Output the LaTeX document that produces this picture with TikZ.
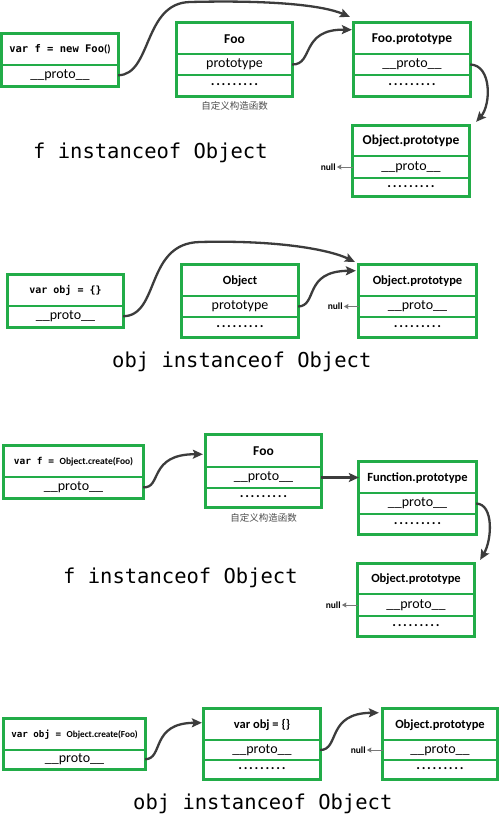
\documentclass[tikz,border=0pt]{standalone}
\usepackage{fontspec}
\setmainfont{Carlito}
\newfontfamily\monof{DejaVu Sans Mono}
\newfontfamily\cjkf{Noto Sans CJK SC}
\usetikzlibrary{arrows.meta,calc}
\definecolor{boxgreen}{RGB}{34,172,72}
\definecolor{arrgray}{RGB}{60,60,60}
\definecolor{nullgray}{RGB}{120,120,120}
\newcommand\dotrow{.\kern1.7pt.\kern1.7pt.\kern1.7pt.\kern1.7pt.\kern1.7pt.\kern1.7pt.\kern1.7pt.\kern1.7pt.}
% cell: name, x1, x2, y1, y2, text
\newcommand\mkcell[6]{%
  \pgfmathsetmacro\cw{#3-#2}%
  \pgfmathsetmacro\ch{#5-#4}%
  \pgfmathsetmacro\cx{(#2+#3)/2}%
  \pgfmathsetmacro\cy{(#4+#5)/2}%
  \node[cell,minimum width=\cw pt,minimum height=\ch pt] (#1) at (\cx,\cy) {#6};
}
\newcommand\threebox[9]{%
  \mkcell{#1h}{#2}{#3}{#4}{#5}{#8}
  \mkcell{#1p}{#2}{#3}{#5}{#6}{\protof #9}
  \mkcell{#1d}{#2}{#3}{#6}{#7}{\protof\bfseries\raisebox{1pt}{\dotrow}}
  \draw[frame] (#1h.north west) rectangle (#1d.south east);
}
\newcommand\twobox[7]{%
  \mkcell{#1h}{#2}{#3}{#4}{#5}{#7}
  \mkcell{#1p}{#2}{#3}{#5}{#6}{\protof \_\_proto\_\_}
  \draw[frame] (#1h.north west) rectangle (#1p.south east);
}
\newcommand\protof{\fontsize{14}{16}\selectfont}
\newcommand\headf{\fontsize{12.5}{14}\selectfont\bfseries}
\newcommand\headF{\fontsize{13.5}{15}\selectfont\bfseries}
\newcommand\pr{\_\_proto\_\_}
\begin{document}
\begin{tikzpicture}[x=1pt,y=-1pt,
  cell/.style={draw=boxgreen,line width=1.3pt,inner sep=0pt,align=center},
  frame/.style={draw=boxgreen,line width=3pt},
  arr/.style={draw=arrgray,line width=2.3pt,-{Stealth[length=10pt,width=9pt,inset=2pt]}},
  nullarr/.style={draw=nullgray,line width=0.9pt,-{Stealth[length=4.5pt,width=5pt,inset=0.5pt]}},
  nullt/.style={font=\fontsize{9.5}{10}\selectfont\bfseries,inner sep=1pt,anchor=east},
  titlet/.style={font=\monof\fontsize{20.5}{22}\selectfont,inner sep=0pt,anchor=base west},
  capt/.style={font=\cjkf\fontsize{9.5}{10}\selectfont,text=black!70,inner sep=0pt}]
\useasboundingbox (0,0) rectangle (500,819);
\fill[white] (0,0) rectangle (500,819);

% ---------- section 1 ----------
\twobox{a1}{2.5}{117.5}{34.5}{65}{85.5}{{\monof\bfseries\fontsize{10.5}{12}\selectfont var f = new Foo}{\bfseries\fontsize{10.5}{12}\selectfont()}}
\threebox{foo1}{177.5}{291.5}{23.5}{54}{75}{95.5}{\headF Foo}{prototype}
\threebox{fp1}{354.5}{469.5}{23.5}{54}{75}{95.5}{\headF Foo.prototype}{\pr}
\threebox{op1}{353.5}{468.5}{126.5}{156}{178}{195.5}{\headF Object.prototype}{\pr}
\node[capt] (cap1) at (234.5,106) {自定义构造函数};
\node[titlet] (t1) at (33,158) {f instanceof Object};
\node[nullt] (n1) at ([xshift=-16]op1p.west) {null};
\draw[nullarr] (op1p.west) -- (n1.east);
\draw[arr] (a1p.east) .. controls (152,75) and (143,3) .. (190,2) .. controls (270,0) and (322,5) .. ([shift={(-4,-6)}]fp1h.north west);
\draw[arr] (foo1p.east) .. controls (314,65) and (300,29) .. ([shift={(-2,-9)}]fp1h.west);
\draw[arr] (fp1p.east) .. controls (492,65) and (491,105) .. ([shift={(7,-4)}]op1h.north east);

% ---------- section 2 ----------
\twobox{a2}{8.5}{122.5}{275.5}{306}{326.5}{\monof\bfseries\fontsize{10}{12}\selectfont var obj = \{\}}
\threebox{ob2}{182.5}{297.5}{265.5}{296}{317}{336.5}{\headf Object}{prototype}
\threebox{op2}{359.5}{475.5}{265.5}{296}{317}{336.5}{\headf Object.prototype}{\pr}
\node[titlet] (t2) at (112,367) {obj instanceof Object};
\node[nullt] (n2) at ([xshift=-15]op2p.west) {null};
\draw[nullarr] (op2p.west) -- (n2.east);
\draw[arr] (a2p.east) .. controls (160,316) and (145,243) .. (200,242) .. controls (280,240) and (330,250) .. ([shift={(-4,-3)}]op2h.north west);
\draw[arr] (ob2p.east) .. controls (318,306) and (303,271) .. ([shift={(-3,-10)}]op2h.west);

% ---------- section 3 ----------
\twobox{a3}{4.5}{142.5}{446.5}{477}{497.5}{{\monof\bfseries\fontsize{9.5}{11}\selectfont var f = }{\bfseries\fontsize{9.5}{11}\selectfont Object.create(Foo)}}
\threebox{foo3}{206.5}{320.5}{435.5}{467}{488}{506.5}{\headF Foo}{\pr}
\threebox{fn3}{359.5}{475.5}{462.5}{493}{514}{533.5}{\headf Function.prototype}{\pr}
\threebox{op3}{358.5}{473.5}{564.5}{594}{616}{635.5}{\headf Object.prototype}{\pr}
\node[capt] (cap3) at (263.5,518) {自定义构造函数};
\node[titlet] (t3) at (63,583) {f instanceof Object};
\node[nullt] (n3) at ([xshift=-16]op3p.west) {null};
\draw[nullarr] (op3p.west) -- (n3.east);
\draw[arr] (a3p.east) .. controls (162,489) and (148,454) .. ([shift={(-3,3)}]foo3h.west);
\draw[arr] (foo3p.east) -- (foo3p.east -| fn3h.west);
\draw[arr] (fn3p.east) .. controls (494,504) and (492,540) .. ([shift={(6,-4)}]op3h.north east);

% ---------- section 4 ----------
\twobox{a4}{4.5}{144.5}{719.5}{750}{768.5}{{\monof\bfseries\fontsize{9.2}{11}\selectfont var obj = }{\bfseries\fontsize{9.2}{11}\selectfont Object.create(Foo)}}
\threebox{ob4}{204.5}{319.5}{709.5}{740}{760}{778.5}{\headf var obj = \{\}}{\pr}
\threebox{op4}{383.5}{496.5}{709.5}{740}{760}{778.5}{\headf Object.prototype}{\pr}
\node[titlet] (t4) at (133,809) {obj instanceof Object};
\node[nullt] (n4) at ([xshift=-16]op4p.west) {null};
\draw[nullarr] (op4p.west) -- (n4.east);
\draw[arr] (a4p.east) .. controls (164,759) and (150,723) .. ([shift={(-2,-2)}]ob4h.west);
\draw[arr] (ob4p.east) .. controls (340,750) and (326,713) .. ([shift={(-4,-12)}]op4h.west);
\end{tikzpicture}
\end{document}
